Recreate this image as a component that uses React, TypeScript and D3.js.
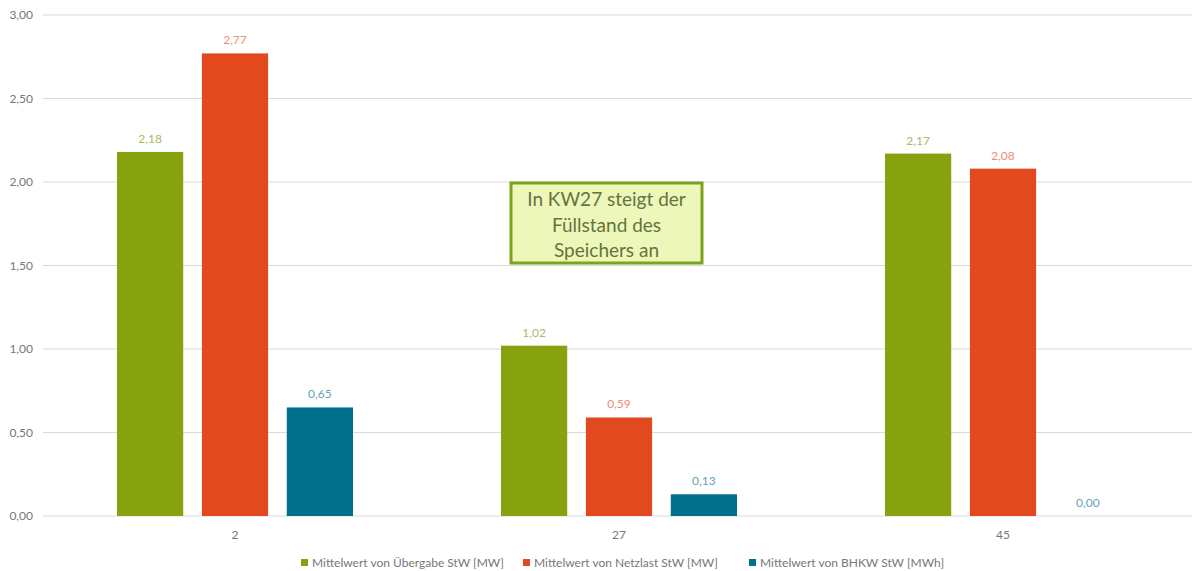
import React from "react";
import * as d3 from "d3";

const categories = ["2", "27", "45"];
const seriesNames = [
  "Mittelwert von Übergabe StW [MW]",
  "Mittelwert von Netzlast StW [MW]",
  "Mittelwert von BHKW StW [MWh]",
];
const uebergabe = [2.18, 1.02, 2.17];
const netzlast = [2.77, 0.59, 2.08];
const bhkw = [0.65, 0.13, 0.0];
const yTicks = [0, 0.5, 1, 1.5, 2, 2.5, 3];
const colors = ["#86A20F", "#E3491E", "#00718C"];
const labelColors = ["#A9BB63", "#EE8D74", "#5FA3B8"];
const annotationLines = ["In KW27 steigt der", "Füllstand des", "Speichers an"];

const W = 1192;
const H = 571;
const FONT = "Lato, 'Open Sans', sans-serif";

export default function App() {
  const series = [uebergabe, netzlast, bhkw];
  const x0 = d3.scaleBand<string>().domain(categories).range([43, 1195]).paddingInner(0).paddingOuter(0);
  const x1 = d3
    .scaleBand<number>()
    .domain([0, 1, 2])
    .range([74, 384 - 74])
    .paddingInner(0.22)
    .paddingOuter(0);
  const y = d3.scaleLinear().domain([0, 3]).range([516, 15]);
  const fmt = (v: number) => d3.format(".2f")(v).replace(".", ",");
  const legendX = [301, 523, 749];

  return (
    <svg
      width={W}
      height={H}
      style={{ position: "absolute", left: 0, top: 0, background: "#fff" }}
      fontFamily={FONT}
    >
      {yTicks.map((t) => (
        <g key={t}>
          <line x1={43} x2={W} y1={y(t)} y2={y(t)} stroke="#D9D9D9" strokeWidth={1} />
          <text x={33} y={y(t)} dy="0.35em" textAnchor="end" fontSize={12} fill="#777">
            {fmt(t)}
          </text>
        </g>
      ))}
      {categories.map((c, ci) => (
        <g key={c} transform={`translate(${x0(c)},0)`}>
          {series.map((s, si) => (
            <g key={si}>
              <rect
                x={x1(si)}
                y={y(s[ci])}
                width={x1.bandwidth()}
                height={y(0) - y(s[ci])}
                fill={colors[si]}
              />
              <text
                x={(x1(si) as number) + x1.bandwidth() / 2}
                y={y(s[ci]) - 9}
                textAnchor="middle"
                fontSize={12}
                fill={labelColors[si]}
              >
                {fmt(s[ci])}
              </text>
            </g>
          ))}
          <text x={x0.bandwidth() / 2} y={539} textAnchor="middle" fontSize={12} fill="#777">
            {c}
          </text>
        </g>
      ))}
      <rect x={511} y={183} width={191} height={80} fill="#ECF7B9" stroke="#7DA21C" strokeWidth={3} />
      {annotationLines.map((l, i) => (
        <text key={i} x={606.5} y={206 + i * 25.5} textAnchor="middle" fontSize={19} fill="#65733F">
          {l}
        </text>
      ))}
      {seriesNames.map((n, i) => (
        <g key={n}>
          <rect x={legendX[i]} y={559} width={7} height={7} fill={colors[i]} />
          <text x={legendX[i] + 11} y={567} fontSize={12} fill="#777" textLength={undefined}>
            {n}
          </text>
        </g>
      ))}
    </svg>
  );
}
